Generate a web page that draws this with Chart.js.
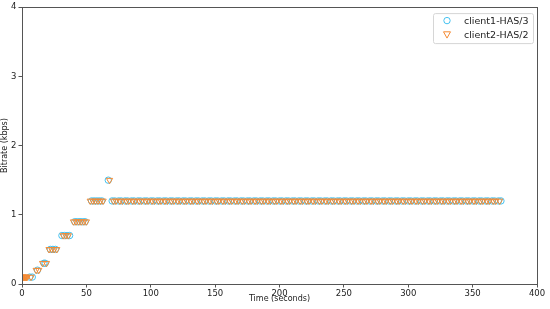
<!DOCTYPE html>
<html>
<head>
<meta charset="utf-8">
<script src="https://cdn.jsdelivr.net/npm/chart.js@4.4.0/dist/chart.umd.min.js"></script>
<style>
  html, body { margin: 0; padding: 0; background: #fff; }
  canvas { display: block; }
</style>
</head>
<body>
<canvas id="chart" width="550" height="309"></canvas>
<script>
// ramp-up phase
const c1RampTimes = [6, 8, 12, 17, 18, 22, 24, 26, 31, 33, 35, 37, 41, 43, 45, 47, 49, 54, 56, 58, 60, 62, 67];
const c1RampRates = [0.1, 0.1, 0.2, 0.3, 0.3, 0.5, 0.5, 0.5, 0.7, 0.7, 0.7, 0.7, 0.9, 0.9, 0.9, 0.9, 0.9, 1.2, 1.2, 1.2, 1.2, 1.2, 1.5];
const c2RampTimes = [0, 0.5, 1, 1.5, 2, 2.5, 3, 3.5, 4, 7, 11, 13, 16, 19, 21, 23, 25, 27, 32, 34, 36, 40, 42, 44, 46, 48, 50, 53, 55, 57, 59, 61, 63, 68];
const c2RampRates = [0.1, 0.1, 0.1, 0.1, 0.1, 0.1, 0.1, 0.1, 0.1, 0.1, 0.2, 0.2, 0.3, 0.3, 0.5, 0.5, 0.5, 0.5, 0.7, 0.7, 0.7, 0.9, 0.9, 0.9, 0.9, 0.9, 0.9, 1.2, 1.2, 1.2, 1.2, 1.2, 1.2, 1.5];

// steady phase: both clients sit at 1.2 kbps
const steadyRate = 1.2;
const c1SteadyTimes = [70, 72, 75, 77, 80, 82, 85, 87, 90, 92, 95, 97, 100, 102, 105, 107, 110, 112, 115, 117,
  120, 122, 125, 127, 130, 132, 135, 137, 140, 142, 145, 147, 150, 152, 155, 157, 160, 162, 165, 167,
  170, 172, 175, 177, 180, 182, 185, 187, 190, 192, 195, 197, 200, 202, 205, 207, 210, 212, 215, 217,
  220, 222, 225, 227, 230, 232, 235, 237, 240, 242, 245, 247, 250, 252, 255, 257, 260, 262, 265, 267,
  270, 272, 275, 277, 280, 282, 285, 287, 290, 292, 295, 297, 300, 302, 305, 307, 310, 312, 315, 317,
  320, 322, 325, 327, 330, 332, 335, 337, 340, 342, 345, 347, 350, 352, 355, 357, 360, 362, 365, 367, 370, 372];
const c2SteadyTimes = [71, 73, 76, 78, 81, 83, 86, 88, 91, 93, 96, 98, 101, 103, 106, 108, 111, 113, 116, 118,
  121, 123, 126, 128, 131, 133, 136, 138, 141, 143, 146, 148, 151, 153, 156, 158, 161, 163, 166, 168,
  171, 173, 176, 178, 181, 183, 186, 188, 191, 193, 196, 198, 201, 203, 206, 208, 211, 213, 216, 218,
  221, 223, 226, 228, 231, 233, 236, 238, 241, 243, 246, 248, 251, 253, 256, 258, 261, 263, 266, 268,
  271, 273, 276, 278, 281, 283, 286, 288, 291, 293, 296, 298, 301, 303, 306, 308, 311, 313, 316, 318,
  321, 323, 326, 328, 331, 333, 336, 338, 341, 343, 346, 348, 351, 353, 356, 358, 361, 363, 366, 368, 371];

const seriesLabels = ['client1-HAS/3', 'client2-HAS/2'];
const xTicks = [0, 50, 100, 150, 200, 250, 300, 350, 400];
const yTicks = [0, 1, 2, 3, 4];

const C1 = '#45c2f0';
const C2 = '#f58a33';
const AXIS = '#555';
const FONT = "'DejaVu Sans', sans-serif";

function toPoints(rampT, rampR, steadyT) {
  const pts = rampT.map((t, i) => ({ x: t, y: rampR[i] }));
  steadyT.forEach((t) => pts.push({ x: t, y: steadyRate }));
  return pts;
}

// matplotlib-style closed frame
const framePlugin = {
  id: 'frame',
  afterDatasetsDraw(chart) {
    const { ctx, chartArea: a } = chart;
    ctx.save();
    ctx.strokeStyle = AXIS;
    ctx.lineWidth = 1;
    ctx.strokeRect(Math.round(a.left) + 0.5, Math.round(a.top) + 0.5,
      Math.round(a.right - a.left), Math.round(a.bottom - a.top));
    ctx.restore();
  },
};

// legend box in the upper right corner
const legendPlugin = {
  id: 'boxLegend',
  afterDraw(chart) {
    const { ctx, chartArea: a } = chart;
    const w = 100, h = 30;
    const x0 = a.right - 4 - w, y0 = a.top + 6;
    ctx.save();
    ctx.fillStyle = 'rgba(255,255,255,0.85)';
    ctx.strokeStyle = '#d6d6d6';
    ctx.lineWidth = 1;
    ctx.beginPath();
    ctx.roundRect(x0 + 0.5, y0 + 0.5, w, h, 2);
    ctx.fill();
    ctx.stroke();

    const mx = x0 + 14;
    const rows = [y0 + 7.5, y0 + 21.5];
    ctx.lineWidth = 1;
    // circle
    ctx.strokeStyle = C1;
    ctx.beginPath();
    ctx.arc(mx, rows[0], 3.2, 0, Math.PI * 2);
    ctx.stroke();
    // down triangle
    ctx.strokeStyle = C2;
    ctx.beginPath();
    ctx.moveTo(mx - 3.5, rows[1] - 2.8);
    ctx.lineTo(mx + 3.5, rows[1] - 2.8);
    ctx.lineTo(mx, rows[1] + 3.5);
    ctx.closePath();
    ctx.stroke();

    ctx.fillStyle = '#222';
    ctx.font = '9.5px ' + FONT;
    ctx.textBaseline = 'middle';
    ctx.textAlign = 'left';
    seriesLabels.forEach((s, i) => ctx.fillText(s, x0 + 31, rows[i] + 0.5));
    ctx.restore();
  },
};

new Chart(document.getElementById('chart'), {
  type: 'scatter',
  data: {
    datasets: [
      {
        label: seriesLabels[0],
        data: toPoints(c1RampTimes, c1RampRates, c1SteadyTimes),
        pointStyle: 'circle',
        pointRadius: 3.2,
        borderColor: C1,
        backgroundColor: 'rgba(0,0,0,0)',
        borderWidth: 1,
        order: 1,
      },
      {
        label: seriesLabels[1],
        data: toPoints(c2RampTimes, c2RampRates, c2SteadyTimes),
        pointStyle: 'triangle',
        pointRotation: 180,
        pointRadius: 3.6,
        borderColor: C2,
        backgroundColor: 'rgba(0,0,0,0)',
        borderWidth: 1,
        order: 0,
      },
    ],
  },
  options: {
    responsive: false,
    animation: false,
    devicePixelRatio: 1,
    layout: { padding: { left: 0, top: 7, right: 13, bottom: 0 } },
    plugins: {
      legend: { display: false },
      tooltip: { enabled: false },
    },
    scales: {
      x: {
        type: 'linear',
        min: 0,
        max: 400,
        afterBuildTicks: (s) => { s.ticks = xTicks.map((v) => ({ value: v })); },
        afterFit: (s) => { s.height = 25; },
        grid: { drawOnChartArea: false, drawTicks: true, tickLength: 3.5, color: AXIS },
        border: { color: AXIS },
        ticks: { color: '#222', font: { family: FONT, size: 8.5 }, padding: 1, maxRotation: 0 },
        title: { display: true, text: 'Time (seconds)', color: '#222', font: { family: FONT, size: 8 }, padding: { top: 0, bottom: 5 } },
      },
      y: {
        type: 'linear',
        min: 0,
        max: 4,
        afterBuildTicks: (s) => { s.ticks = yTicks.map((v) => ({ value: v })); },
        afterFit: (s) => { s.width = 22; },
        grid: { drawOnChartArea: false, drawTicks: true, tickLength: 3.5, color: AXIS },
        border: { color: AXIS },
        ticks: { color: '#222', font: { family: FONT, size: 8.5 }, padding: 2 },
        title: { display: true, text: 'Bitrate (kbps)', color: '#222', font: { family: FONT, size: 8 }, padding: { top: 0, bottom: 0 } },
      },
    },
  },
  plugins: [framePlugin, legendPlugin],
});
</script>
</body>
</html>
